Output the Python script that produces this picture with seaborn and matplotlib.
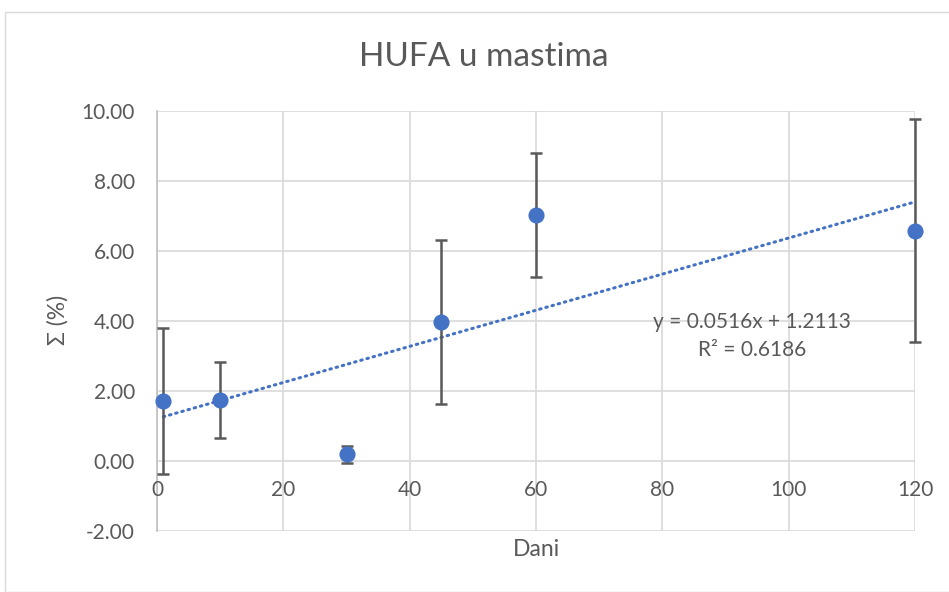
import matplotlib
matplotlib.use("Agg")
import matplotlib.pyplot as plt
import matplotlib.transforms as mtransforms
from matplotlib.patches import Rectangle
import seaborn as sns
import pandas as pd
import numpy as np

# data
days = [1, 10, 30, 45, 60, 120]
hufa = [1.71, 1.74, 0.19, 3.97, 7.03, 6.58]
err = [2.08, 1.08, 0.24, 2.33, 1.76, 3.19]
x_ticks = [0, 20, 40, 60, 80, 100, 120]
y_ticks = [-2, 0, 2, 4, 6, 8, 10]
slope = 0.0516
intercept = 1.2113
r2 = 0.6186
title = "HUFA u mastima"
xlabel = "Dani"
ylabel = "Σ (%)"

sns.set_theme(style="white")
plt.rcParams['font.family'] = ['Lato', 'DejaVu Sans']

blue = "#4472C4"
grey = "#595959"
gridc = "#D9D9D9"

fig = plt.figure(figsize=(9.49, 5.92), dpi=100)
fig.patches.append(Rectangle((5/949, 0), 1, 1 - 12/592, transform=fig.transFigure,
                             fill=False, edgecolor=gridc, linewidth=1))
ax = fig.add_axes([157/949, 1 - 531/592, (915 - 157)/949, (531 - 111)/592])

df = pd.DataFrame({"Dani": days, "HUFA": hufa, "err": err})

ax.set_xlim(0, 120)
ax.set_ylim(-2, 10)
ax.set_xticks(x_ticks)
ax.set_yticks(y_ticks)
ax.grid(True, color=gridc, linewidth=1.2)
ax.set_axisbelow(True)
for s in ["top", "right", "bottom"]:
    ax.spines[s].set_visible(False)
ax.spines["left"].set_color("#BFBFBF")
ax.spines["left"].set_linewidth(1.2)
ax.tick_params(axis="both", length=0)
ax.set_yticklabels([f"{v:.2f}" for v in y_ticks], color=grey, fontsize=15)
ax.tick_params(axis="y", pad=16)
ax.set_xticklabels([])

# x tick labels sit below the y=0 line
trans = mtransforms.offset_copy(ax.transData, fig=fig, x=0, y=-14, units="points")
for xv in x_ticks:
    ax.text(xv, 0, str(xv), transform=trans, ha="center", va="top", color=grey, fontsize=15)

# trendline
tx = np.array([days[0], days[-1]])
trend = pd.DataFrame({"x": tx, "y": slope * tx + intercept})
sns.lineplot(data=trend, x="x", y="y", ax=ax, color=blue, linewidth=2.2,
             linestyle=(0, (0.5, 1.6)), dash_capstyle="round", zorder=3)

ax.errorbar(df["Dani"], df["HUFA"], yerr=df["err"], fmt="none", ecolor=grey,
            elinewidth=1.8, capsize=4.5, capthick=1.8, zorder=4, clip_on=False)
sns.scatterplot(data=df, x="Dani", y="HUFA", ax=ax, color=blue, s=135,
                edgecolor=blue, linewidth=0, zorder=5, clip_on=False)

ax.text(94.2, 3.97, f"y = {slope}x + {intercept}", ha="center", va="center",
        color=grey, fontsize=15, zorder=6)
ax.text(94.2, 3.17, f"R² = {r2}", ha="center", va="center",
        color=grey, fontsize=15, zorder=6)

ax.set_xlabel("")
ax.set_ylabel("")
fig.text(536/949, 1 - 549/592, xlabel, ha="center", va="center", color=grey, fontsize=16.5)
fig.text(58/949, 1 - 320/592, ylabel, ha="center", va="center", color=grey,
         fontsize=16.5, rotation=90)
fig.text(484/949, 1 - 57/592, title, ha="center", va="center", color=grey, fontsize=24)

fig.savefig("out.png", dpi=100)
